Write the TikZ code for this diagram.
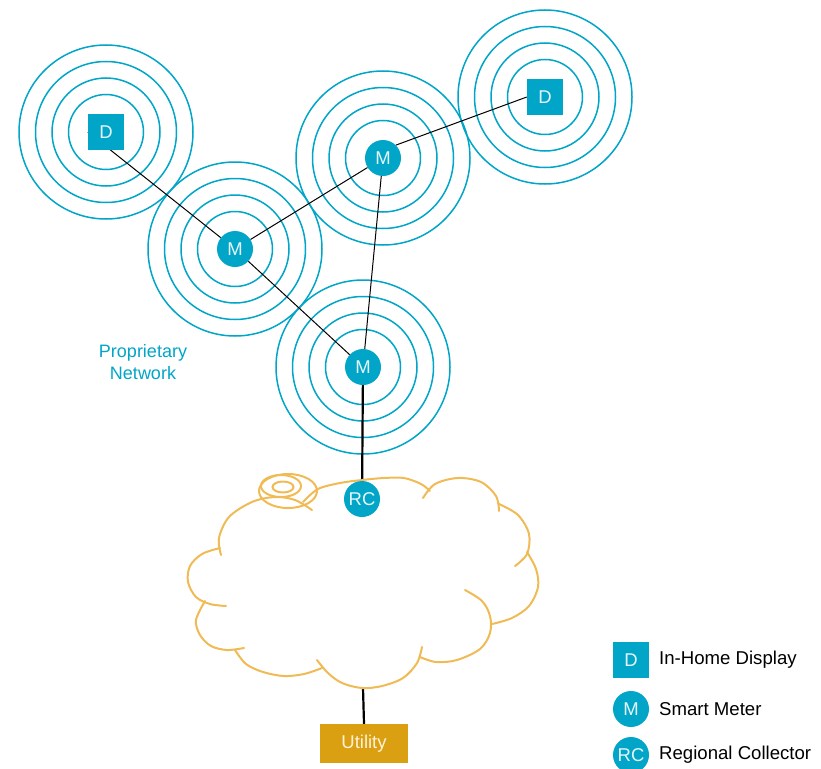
\documentclass[tikz,border=0pt]{standalone}
\usepackage{fontspec}
\setmainfont{Liberation Sans}
\usetikzlibrary{backgrounds}

\definecolor{meterblue}{RGB}{0,165,200}
\definecolor{labelwhite}{RGB}{232,246,250}
\definecolor{cloudorange}{RGB}{240,186,84}
\definecolor{utilgold}{RGB}{218,160,18}
\definecolor{utiltext}{RGB}{255,243,214}

\tikzset{
  meter/.style={circle, fill=meterblue, minimum size=36pt, inner sep=0pt,
    text=labelwhite, font=\fontsize{18.5}{21}\selectfont},
  display/.style={rectangle, fill=meterblue, minimum size=36pt, inner sep=0pt,
    text=labelwhite, font=\fontsize{18.5}{21}\selectfont},
  ring/.style={draw=meterblue, line width=1.5pt},
  link/.style={draw=black, line width=1pt},
  trunk/.style={draw=black, line width=2.2pt},
  cloudline/.style={draw=cloudorange, line width=2pt, line cap=round},
  legendtext/.style={anchor=west, inner sep=0pt, font=\fontsize{18.6}{22}\selectfont},
  utilbox/.style={rectangle, fill=utilgold, minimum width=88pt, minimum height=39pt,
    inner sep=0pt, text=utiltext, font=\fontsize{18.5}{21}\selectfont},
}

\begin{document}
\begin{tikzpicture}[x=1pt, y=-1pt]
  \useasboundingbox (0,0) rectangle (821,768);

  % devices of the mesh
  \node[display] (d1) at (106,132) {D};
  \node[meter]   (m1) at (235,249) {M};
  \node[meter]   (m2) at (383,158) {M};
  \node[display] (d2) at (545,97)  {D};
  \node[meter]   (m3) at (363,367) {M};
  \node[meter]   (rc) at (362,499) {RC};
  \coordinate (cloudbase) at (363,688);
  \node[utilbox] (util) at (364,743.5) {Utility};

  \node[align=center, text=meterblue, inner sep=0pt,
        font=\fontsize{18}{22}\selectfont] (net) at (143,362)
        {Proprietary\\Network};

  \begin{scope}[on background layer]
    % radio rings round every device
    \foreach \dev in {d1,m1,m2,d2,m3}{
      \foreach \r in {37.5,54,70.5,87}{
        \draw[ring] (\dev.center) circle[radius=\r pt];
      }
    }

    % wireless links
    \draw[link] (d1.west) -- (m1);
    \draw[link] (m1) -- (m2);
    \draw[link] (m2.45) -- (d2.west);
    \draw[link] (m1) -- (m3);
    \draw[link] (m2) -- (m3);

    % wired links
    \draw[trunk] (m3) -- (rc);
    \draw[trunk] (cloudbase) -- (util.north);

    % cloud outline, lobe by lobe
    \draw[cloudline] plot[smooth, tension=0.55] coordinates
      {(221,555) (219,538) (229,517) (252,502) (275,497) (295,500) (312,510)};
    \draw[cloudline] plot[smooth, tension=0.55] coordinates
      {(303,502) (318,489) (340,483) (362,480) (384,478) (404,478) (421,484) (430,491)};
    \draw[cloudline] plot[smooth, tension=0.55] coordinates
      {(423,498) (435,484) (458,478) (481,482) (496,496) (499,511)};
    \draw[cloudline] plot[smooth, tension=0.55] coordinates
      {(499,504) (518,515) (529,534) (527,554) (515,566)};
    \draw[cloudline] plot[smooth, tension=0.55] coordinates
      {(527,552) (536,569) (538,587) (529,606) (512,618) (492,624)};
    \draw[cloudline] plot[smooth, tension=0.55] coordinates
      {(465,590) (482,601) (490,616) (490,633) (480,649) (457,660) (436,662) (420,657)};
    \draw[cloudline] plot[smooth, tension=0.55] coordinates
      {(422,647) (417,663) (403,678) (382,686) (362,688) (342,683) (328,673) (317,660)};
    \draw[cloudline] plot[smooth, tension=0.55] coordinates
      {(322,668) (304,674) (284,676) (263,672) (246,664) (235,650)};
    \draw[cloudline] plot[smooth, tension=0.55] coordinates
      {(244,648) (227,650) (211,646) (200,635) (196,620) (205,601)};
    \draw[cloudline] plot[smooth, tension=0.55] coordinates
      {(226,606) (210,604) (196,597) (188,582) (190,566) (202,554) (220,548)};
    % curl on the top edge
    \draw[cloudline] (288,491) ellipse[x radius=29pt, y radius=17pt];
    \draw[cloudline] (281,486) ellipse[x radius=20pt, y radius=11pt];
    \draw[cloudline] (283,487) ellipse[x radius=10.5pt, y radius=5.5pt];
  \end{scope}

  % legend
  \node[display] (kd)  at (631,660) {D};
  \node[meter]   (km)  at (631,709) {M};
  \node[meter]   (krc) at (631,755) {RC};
  \node[legendtext] (kdt)  at (659,660) {In-Home Display};
  \node[legendtext] (kmt)  at (659,709) {Smart Meter};
  \node[legendtext] (krct) at (659,755) {Regional Collector};
\end{tikzpicture}
\end{document}
